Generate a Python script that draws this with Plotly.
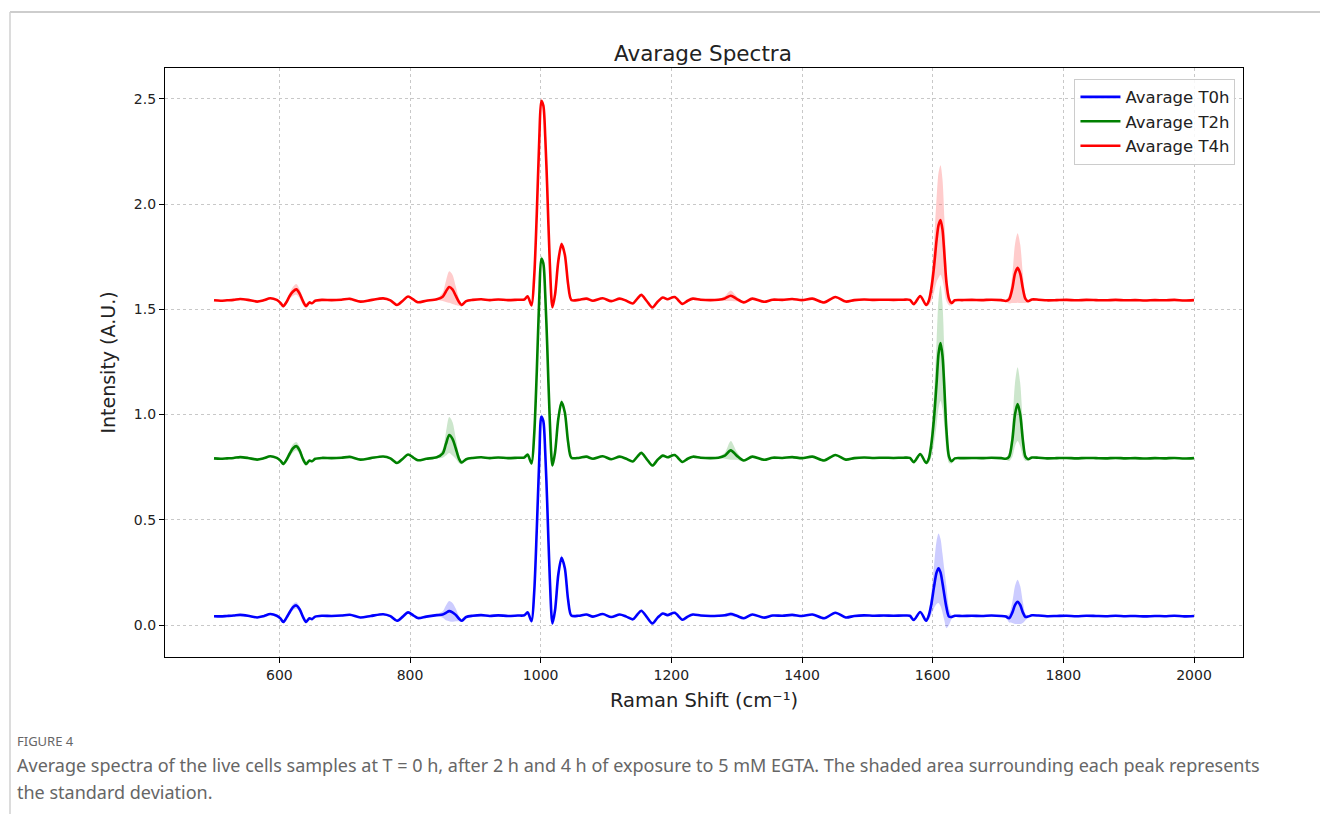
import plotly.graph_objects as go

# ---------------- data ----------------
raman_shift = [
    500, 510, 520, 530, 540, 552, 566, 576, 586, 596,
    602, 606, 611, 616, 621, 626, 631, 636, 641, 646,
    650, 655, 665, 680, 695, 708, 724, 740, 759, 770,
    780, 789, 797, 805, 812, 825, 841, 850, 855, 860,
    865, 870, 875, 879, 886, 896, 909, 922, 935, 950,
    965, 975, 980, 986, 990, 994, 998, 1001, 1004, 1007,
    1010, 1014, 1018, 1022, 1027, 1032, 1037, 1042, 1047, 1058,
    1070, 1080, 1095, 1108, 1121, 1131, 1141, 1148, 1154, 1162,
    1171, 1179, 1187, 1194, 1205, 1217, 1225, 1233, 1245, 1260,
    1272, 1282, 1291, 1300, 1311, 1324, 1342, 1355, 1370, 1385,
    1400, 1416, 1434, 1451, 1467, 1480, 1495, 1510, 1525, 1540,
    1555, 1565, 1571, 1581, 1590, 1594, 1598, 1602, 1606, 1609,
    1612, 1615, 1618, 1621, 1625, 1629, 1634, 1645, 1660, 1675,
    1690, 1705, 1712, 1717, 1722, 1726, 1730, 1734, 1738, 1742,
    1746, 1752, 1762, 1775, 1790, 1805, 1820, 1835, 1850, 1865,
    1880, 1895, 1910, 1925, 1940, 1955, 1970, 1985, 2000,
]

mean_t0h = [
    0.042, 0.041, 0.043, 0.045, 0.048, 0.044, 0.036, 0.042, 0.052, 0.044,
    0.030, 0.014, 0.035, 0.062, 0.085, 0.093, 0.075, 0.040, 0.015, 0.032,
    0.028, 0.040, 0.044, 0.043, 0.045, 0.049, 0.036, 0.043, 0.051, 0.042,
    0.020, 0.040, 0.060, 0.046, 0.033, 0.040, 0.047, 0.050, 0.058, 0.066,
    0.060, 0.048, 0.030, 0.020, 0.038, 0.044, 0.047, 0.043, 0.046, 0.043,
    0.045, 0.046, 0.060, 0.018, 0.150, 0.450, 0.800, 0.990, 0.970, 0.820,
    0.580, 0.220, 0.008, 0.070, 0.240, 0.320, 0.270, 0.120, 0.045, 0.044,
    0.050, 0.040, 0.052, 0.038, 0.050, 0.040, 0.027, 0.050, 0.068, 0.040,
    0.008, 0.035, 0.055, 0.047, 0.058, 0.025, 0.040, 0.050, 0.045, 0.043,
    0.044, 0.046, 0.052, 0.044, 0.032, 0.050, 0.035, 0.045, 0.044, 0.048,
    0.043, 0.050, 0.032, 0.058, 0.036, 0.043, 0.046, 0.044, 0.045, 0.044,
    0.045, 0.044, 0.024, 0.062, 0.020, 0.045, 0.100, 0.180, 0.250, 0.270,
    0.250, 0.200, 0.140, 0.085, 0.040, 0.038, 0.044, 0.043, 0.044, 0.043,
    0.045, 0.043, 0.040, 0.032, 0.060, 0.095, 0.110, 0.095, 0.060, 0.038,
    0.040, 0.046, 0.045, 0.042, 0.043, 0.044, 0.042, 0.044, 0.043, 0.042,
    0.044, 0.042, 0.043, 0.041, 0.043, 0.042, 0.044, 0.041, 0.043,
]

std_t0h = [
    0.003, 0.003, 0.003, 0.003, 0.003, 0.003, 0.003, 0.003, 0.004, 0.003,
    0.005, 0.006, 0.008, 0.012, 0.015, 0.015, 0.012, 0.010, 0.008, 0.006,
    0.004, 0.003, 0.003, 0.003, 0.003, 0.003, 0.003, 0.003, 0.003, 0.003,
    0.003, 0.003, 0.004, 0.003, 0.003, 0.003, 0.005, 0.015, 0.035, 0.048,
    0.045, 0.030, 0.012, 0.006, 0.004, 0.003, 0.003, 0.003, 0.003, 0.003,
    0.003, 0.003, 0.003, 0.003, 0.005, 0.010, 0.015, 0.015, 0.015, 0.015,
    0.015, 0.012, 0.008, 0.008, 0.010, 0.012, 0.010, 0.008, 0.004, 0.003,
    0.003, 0.003, 0.003, 0.003, 0.003, 0.003, 0.003, 0.003, 0.004, 0.003,
    0.003, 0.003, 0.003, 0.003, 0.003, 0.003, 0.003, 0.003, 0.003, 0.003,
    0.003, 0.006, 0.010, 0.006, 0.003, 0.003, 0.003, 0.003, 0.003, 0.003,
    0.003, 0.003, 0.003, 0.003, 0.003, 0.003, 0.003, 0.003, 0.003, 0.003,
    0.003, 0.003, 0.004, 0.005, 0.006, 0.020, 0.050, 0.100, 0.150, 0.165,
    0.160, 0.140, 0.120, 0.100, 0.040, 0.010, 0.004, 0.003, 0.003, 0.003,
    0.003, 0.003, 0.006, 0.020, 0.050, 0.090, 0.105, 0.090, 0.050, 0.015,
    0.005, 0.003, 0.003, 0.003, 0.003, 0.003, 0.003, 0.003, 0.003, 0.003,
    0.003, 0.003, 0.003, 0.003, 0.003, 0.003, 0.003, 0.003, 0.003,
]

mean_t2h = [
    0.792, 0.790, 0.792, 0.794, 0.798, 0.794, 0.786, 0.792, 0.802, 0.794,
    0.780, 0.765, 0.785, 0.815, 0.840, 0.850, 0.830, 0.790, 0.765, 0.782,
    0.778, 0.790, 0.794, 0.793, 0.795, 0.799, 0.786, 0.793, 0.801, 0.792,
    0.770, 0.790, 0.810, 0.796, 0.783, 0.790, 0.797, 0.815, 0.860, 0.903,
    0.885, 0.840, 0.790, 0.772, 0.788, 0.794, 0.797, 0.793, 0.796, 0.793,
    0.795, 0.796, 0.810, 0.768, 0.900, 1.200, 1.570, 1.740, 1.720, 1.570,
    1.330, 0.970, 0.758, 0.820, 0.980, 1.060, 1.010, 0.870, 0.795, 0.794,
    0.800, 0.790, 0.802, 0.788, 0.800, 0.790, 0.777, 0.800, 0.818, 0.790,
    0.758, 0.785, 0.805, 0.797, 0.808, 0.775, 0.790, 0.800, 0.795, 0.793,
    0.795, 0.805, 0.830, 0.805, 0.782, 0.800, 0.785, 0.795, 0.794, 0.798,
    0.793, 0.800, 0.782, 0.808, 0.786, 0.793, 0.796, 0.794, 0.795, 0.794,
    0.795, 0.794, 0.774, 0.812, 0.770, 0.790, 0.860, 0.980, 1.150, 1.290,
    1.340, 1.280, 1.120, 0.930, 0.800, 0.778, 0.792, 0.793, 0.794, 0.793,
    0.795, 0.793, 0.790, 0.800, 0.880, 1.000, 1.050, 1.000, 0.880, 0.800,
    0.788, 0.796, 0.795, 0.792, 0.793, 0.794, 0.792, 0.794, 0.793, 0.792,
    0.794, 0.792, 0.793, 0.791, 0.793, 0.792, 0.794, 0.791, 0.793,
]

std_t2h = [
    0.003, 0.003, 0.003, 0.003, 0.003, 0.003, 0.003, 0.003, 0.003, 0.003,
    0.005, 0.008, 0.010, 0.015, 0.020, 0.020, 0.018, 0.015, 0.010, 0.006,
    0.003, 0.003, 0.003, 0.003, 0.003, 0.003, 0.003, 0.003, 0.003, 0.003,
    0.003, 0.003, 0.003, 0.003, 0.003, 0.003, 0.005, 0.020, 0.055, 0.085,
    0.080, 0.050, 0.020, 0.008, 0.004, 0.003, 0.003, 0.003, 0.003, 0.003,
    0.003, 0.003, 0.003, 0.003, 0.005, 0.010, 0.015, 0.015, 0.015, 0.015,
    0.015, 0.012, 0.008, 0.008, 0.010, 0.012, 0.010, 0.008, 0.004, 0.003,
    0.003, 0.003, 0.003, 0.003, 0.003, 0.003, 0.003, 0.003, 0.003, 0.003,
    0.003, 0.003, 0.003, 0.003, 0.003, 0.003, 0.003, 0.003, 0.003, 0.003,
    0.004, 0.015, 0.045, 0.020, 0.005, 0.003, 0.003, 0.003, 0.003, 0.003,
    0.003, 0.003, 0.003, 0.003, 0.003, 0.003, 0.003, 0.003, 0.003, 0.003,
    0.003, 0.003, 0.004, 0.005, 0.006, 0.020, 0.060, 0.120, 0.200, 0.260,
    0.275, 0.250, 0.180, 0.100, 0.030, 0.010, 0.004, 0.003, 0.003, 0.003,
    0.003, 0.003, 0.005, 0.020, 0.080, 0.150, 0.175, 0.150, 0.080, 0.020,
    0.005, 0.003, 0.003, 0.003, 0.003, 0.003, 0.003, 0.003, 0.003, 0.003,
    0.003, 0.003, 0.003, 0.003, 0.003, 0.003, 0.003, 0.003, 0.003,
]

mean_t4h = [
    1.543, 1.541, 1.543, 1.545, 1.549, 1.545, 1.537, 1.543, 1.553, 1.545,
    1.530, 1.515, 1.535, 1.565, 1.585, 1.595, 1.575, 1.540, 1.516, 1.533,
    1.529, 1.541, 1.545, 1.544, 1.546, 1.550, 1.537, 1.544, 1.552, 1.543,
    1.521, 1.541, 1.561, 1.547, 1.534, 1.541, 1.548, 1.560, 1.585, 1.606,
    1.595, 1.565, 1.535, 1.521, 1.539, 1.545, 1.548, 1.544, 1.547, 1.544,
    1.546, 1.547, 1.562, 1.519, 1.650, 1.950, 2.320, 2.490, 2.470, 2.320,
    2.080, 1.720, 1.510, 1.570, 1.730, 1.810, 1.760, 1.620, 1.545, 1.545,
    1.551, 1.541, 1.553, 1.539, 1.551, 1.541, 1.528, 1.551, 1.569, 1.541,
    1.509, 1.536, 1.556, 1.548, 1.559, 1.526, 1.541, 1.551, 1.546, 1.544,
    1.546, 1.552, 1.565, 1.550, 1.533, 1.551, 1.536, 1.546, 1.545, 1.549,
    1.544, 1.551, 1.533, 1.559, 1.537, 1.544, 1.547, 1.545, 1.546, 1.545,
    1.546, 1.545, 1.525, 1.563, 1.521, 1.540, 1.600, 1.700, 1.830, 1.900,
    1.925, 1.880, 1.760, 1.630, 1.550, 1.530, 1.543, 1.544, 1.545, 1.544,
    1.546, 1.544, 1.540, 1.548, 1.600, 1.670, 1.697, 1.670, 1.600, 1.550,
    1.539, 1.547, 1.546, 1.543, 1.544, 1.545, 1.543, 1.545, 1.544, 1.543,
    1.545, 1.543, 1.544, 1.542, 1.544, 1.543, 1.545, 1.542, 1.544,
]

std_t4h = [
    0.003, 0.003, 0.003, 0.003, 0.003, 0.003, 0.003, 0.003, 0.003, 0.003,
    0.005, 0.008, 0.010, 0.015, 0.022, 0.025, 0.022, 0.018, 0.012, 0.006,
    0.003, 0.003, 0.003, 0.003, 0.003, 0.003, 0.003, 0.003, 0.003, 0.003,
    0.003, 0.003, 0.003, 0.003, 0.003, 0.003, 0.005, 0.020, 0.050, 0.075,
    0.070, 0.045, 0.018, 0.008, 0.004, 0.003, 0.003, 0.003, 0.003, 0.003,
    0.003, 0.003, 0.003, 0.003, 0.005, 0.010, 0.015, 0.015, 0.015, 0.015,
    0.015, 0.012, 0.008, 0.008, 0.010, 0.012, 0.010, 0.008, 0.004, 0.003,
    0.003, 0.003, 0.003, 0.003, 0.003, 0.003, 0.003, 0.003, 0.003, 0.003,
    0.003, 0.003, 0.003, 0.003, 0.003, 0.003, 0.003, 0.003, 0.003, 0.003,
    0.004, 0.012, 0.025, 0.012, 0.004, 0.003, 0.003, 0.003, 0.003, 0.003,
    0.003, 0.003, 0.003, 0.003, 0.003, 0.003, 0.003, 0.003, 0.003, 0.003,
    0.003, 0.003, 0.004, 0.005, 0.006, 0.020, 0.060, 0.120, 0.200, 0.250,
    0.260, 0.240, 0.170, 0.090, 0.030, 0.010, 0.004, 0.003, 0.003, 0.003,
    0.003, 0.003, 0.005, 0.020, 0.070, 0.140, 0.165, 0.140, 0.070, 0.020,
    0.005, 0.003, 0.003, 0.003, 0.003, 0.003, 0.003, 0.003, 0.003, 0.003,
    0.003, 0.003, 0.003, 0.003, 0.003, 0.003, 0.003, 0.003, 0.003,
]

series_names = ["Avarage T0h", "Avarage T2h", "Avarage T4h"]
x_ticks = [600, 800, 1000, 1200, 1400, 1600, 1800, 2000]
y_ticks = [0.0, 0.5, 1.0, 1.5, 2.0, 2.5]

# ---------------- figure ----------------
W, H = 1320, 814
L, R, T, B = 165, 1243, 68, 657
FONT = "DejaVu Sans"


def px(xp):
    return (xp - L) / (R - L)


def py(yp):
    return (B - yp) / (B - T)


fig = go.Figure()
series = [
    (mean_t0h, std_t0h, "#0000ff", "rgba(0,0,255,0.2)"),
    (mean_t2h, std_t2h, "#008000", "rgba(0,128,0,0.2)"),
    (mean_t4h, std_t4h, "#ff0000", "rgba(255,0,0,0.2)"),
]
for (m, s, col, fcol), name in zip(series, series_names):
    upper = [a + b for a, b in zip(m, s)]
    lower = [a - b for a, b in zip(m, s)]
    fig.add_trace(go.Scatter(
        x=raman_shift + raman_shift[::-1],
        y=upper + lower[::-1],
        fill="toself", fillcolor=fcol,
        line=dict(width=0, shape="spline", smoothing=0.8),
        mode="lines", showlegend=False, hoverinfo="skip",
    ))
for (m, s, col, fcol), name in zip(series, series_names):
    fig.add_trace(go.Scatter(
        x=raman_shift, y=m, name=name, mode="lines",
        line=dict(color=col, width=2.6, shape="spline", smoothing=0.8),
    ))

axis_common = dict(
    showline=True, linecolor="black", linewidth=1.2, mirror=True,
    ticks="outside", ticklen=5, tickwidth=1.2, tickcolor="black",
    showgrid=True, gridcolor="#c8c8c8", griddash="dot", gridwidth=1,
    zeroline=False,
    tickfont=dict(family=FONT, size=14, color="#222"),
)

fig.update_layout(
    width=W, height=H,
    margin=dict(l=L, r=W - R, t=T, b=H - B),
    paper_bgcolor="white", plot_bgcolor="white",
    font=dict(family=FONT, color="#222"),
    showlegend=True,
    legend=dict(
        x=0.993, y=0.982, xanchor="right", yanchor="top",
        bgcolor="rgba(255,255,255,0.85)", bordercolor="#cccccc", borderwidth=1,
        font=dict(family=FONT, size=16.5, color="#222"),
        itemwidth=40, tracegroupgap=1,
    ),
    xaxis=dict(
        range=[425, 2075], tickvals=x_ticks,
        ticktext=[str(v) for v in x_ticks],
        title=dict(text="Raman Shift (cm⁻¹)", font=dict(family=FONT, size=19.5, color="#222"), standoff=11),
        **axis_common,
    ),
    yaxis=dict(
        range=[-0.152, 2.647], tickvals=y_ticks,
        ticktext=[f"{v:.1f}" for v in y_ticks],
        title=dict(text="Intensity (A.U.)", font=dict(family=FONT, size=19, color="#222"), standoff=13),
        **axis_common,
    ),
)

# title
fig.add_annotation(
    text="Avarage Spectra", xref="paper", yref="paper",
    x=px(703), y=py(53), showarrow=False,
    font=dict(family=FONT, size=21.5, color="#222"),
    xanchor="center", yanchor="middle",
)

# page frame lines
fig.add_shape(type="line", xref="paper", yref="paper",
              x0=px(10), x1=px(1320), y0=py(12), y1=py(12),
              line=dict(color="#bdbdbd", width=1.5))
fig.add_shape(type="line", xref="paper", yref="paper",
              x0=px(10), x1=px(10), y0=py(12), y1=py(814),
              line=dict(color="#d0d0d0", width=1.5))

# caption
CAP = "Noto Sans"
fig.add_annotation(
    text="FIGURE 4", xref="paper", yref="paper",
    x=px(15), y=py(741), xanchor="left", yanchor="middle", showarrow=False,
    font=dict(family=CAP, size=13, color="#666"),
)
fig.add_annotation(
    text="Average spectra of the live cells samples at T = 0 h, after 2 h and 4 h of exposure to 5 mM EGTA. The shaded area surrounding each peak represents",
    xref="paper", yref="paper",
    x=px(15), y=py(765), xanchor="left", yanchor="middle", showarrow=False,
    font=dict(family=CAP, size=18, color="#666"),
)
fig.add_annotation(
    text="the standard deviation.",
    xref="paper", yref="paper",
    x=px(15), y=py(792), xanchor="left", yanchor="middle", showarrow=False,
    font=dict(family=CAP, size=18, color="#666"),
)

fig.write_html("out.html")
